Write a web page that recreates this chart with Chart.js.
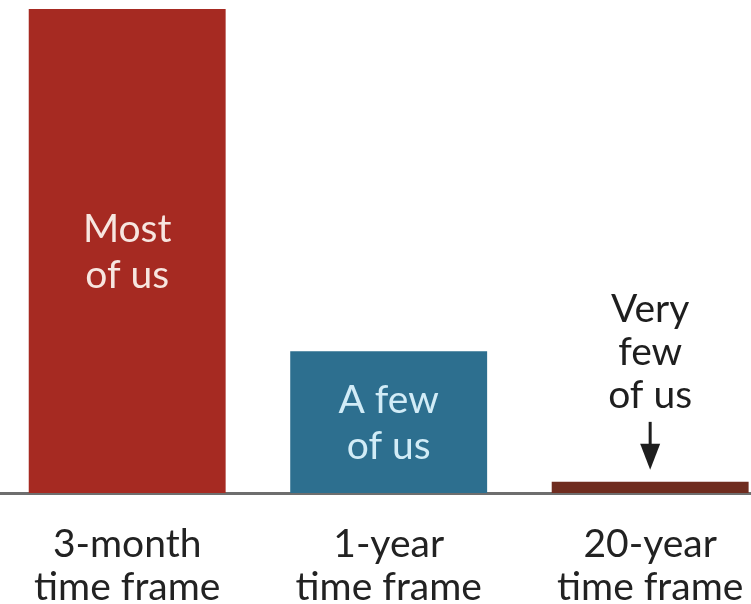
<!DOCTYPE html>
<html>
<head>
<meta charset="utf-8">
<script src="https://cdn.jsdelivr.net/npm/chart.js@4"></script>
<style>
  html, body { margin: 0; padding: 0; background: #fff; }
  #wrap { width: 751px; height: 604px; }
</style>
</head>
<body>
<div id="wrap"><canvas id="horizonChart"></canvas></div>
<script>
// data
const categories = [['3-month', 'time frame'], ['1-year', 'time frame'], ['20-year', 'time frame']];
const shares = [100, 29.3, 2.3];
const barNotes = [['Most', 'of us'], ['A few', 'of us'], ['Very', 'few', 'of us']];

const barColors = ['#a62a22', '#2d6f8f', '#6f2c1f'];
const noteColors = ['#f7e6e0', '#d2ecf7', '#1e1e1e'];

// writes the notes in / above each bar
const notesPlugin = {
  id: 'notes',
  afterDatasetsDraw(chart) {
    const ctx = chart.ctx;
    const bars = chart.getDatasetMeta(0).data;
    ctx.save();
    ctx.font = '39px Lato';
    ctx.textAlign = 'center';
    ctx.textBaseline = 'alphabetic';
    bars.forEach((bar, i) => {
      const lines = barNotes[i];
      ctx.fillStyle = noteColors[i];
      if (bar.base - bar.y > 100) {
        const mid = (bar.y + bar.base) / 2;
        lines.forEach((t, k) => ctx.fillText(t, bar.x, mid - 9 + k * 46));
      } else {
        lines.forEach((t, k) => ctx.fillText(t, bar.x, bar.y - 160 + k * 43));
        // arrow pointing down at the bar
        const top = bar.y - 60, tip = bar.y - 12;
        ctx.strokeStyle = noteColors[i];
        ctx.lineWidth = 3;
        ctx.beginPath();
        ctx.moveTo(bar.x, top);
        ctx.lineTo(bar.x, tip - 20);
        ctx.stroke();
        ctx.beginPath();
        ctx.moveTo(bar.x - 10, tip - 26);
        ctx.lineTo(bar.x + 10, tip - 26);
        ctx.lineTo(bar.x, tip);
        ctx.closePath();
        ctx.fill();
      }
    });
    ctx.restore();
  }
};

const ctx = document.getElementById('horizonChart');
new Chart(ctx, {
  type: 'bar',
  data: {
    datasets: [{
      data: shares.map((v, i) => ({ x: i, y: v })),
      backgroundColor: barColors,
      borderWidth: 0,
      categoryPercentage: 1,
      barPercentage: 0.753
    }]
  },
  options: {
    responsive: true,
    maintainAspectRatio: false,
    animation: false,
    layout: { padding: { top: 9, left: 0, right: 0, bottom: 0 } },
    plugins: { legend: { display: false }, tooltip: { enabled: false } },
    scales: {
      x: {
        type: 'linear',
        offset: false,
        min: -0.4864,
        max: 2.3856,
        grid: { display: false, drawTicks: false },
        border: { display: true, color: '#6e6e6e', width: 3 },
        afterBuildTicks: (axis) => { axis.ticks = [0, 1, 2].map(v => ({ value: v })); },
        afterFit: (axis) => {
          axis.height = 111;
          axis.paddingLeft = 0;
          axis.paddingRight = 0;
        },
        ticks: {
          autoSkip: false,
          maxRotation: 0,
          padding: 30,
          color: '#222',
          font: { family: 'Lato', size: 39, lineHeight: 1.1 },
          callback: (value) => categories[value]
        }
      },
      y: {
        display: false,
        min: 0,
        max: 100
      }
    }
  },
  plugins: [notesPlugin]
});
</script>
</body>
</html>
